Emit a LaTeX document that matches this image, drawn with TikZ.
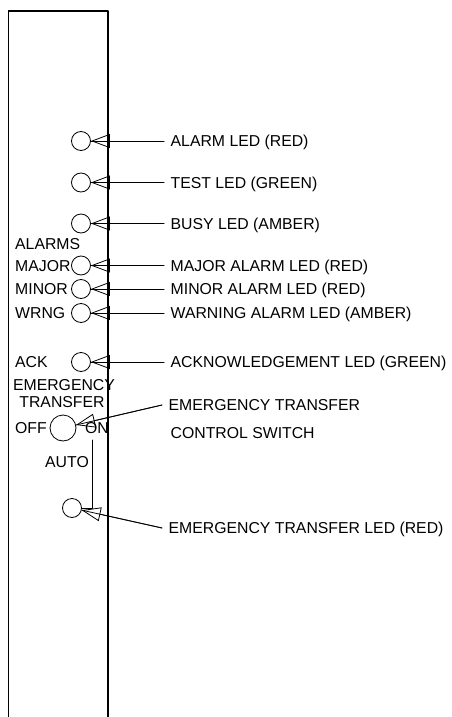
\documentclass[tikz,border=0pt]{standalone}
\usepackage{fontspec}
\setmainfont{Liberation Sans}
\usetikzlibrary{arrows.meta}
\begin{document}
\begin{tikzpicture}[x=1pt,y=-1pt,line join=round,line cap=round,
	font=\fontsize{15.8}{18}\selectfont,
	led/.style={draw,circle,inner sep=0pt,minimum size=19pt,line width=0.8pt},
	txt/.style={inner sep=0pt,text height=11.4pt,text depth=0pt,anchor=west},
	lbl/.style={txt,inner xsep=6.5pt},
	ptr/.style={-{Triangle[open,length=19pt,width=14pt]},line width=0.8pt,postaction={draw,arrows=-}}]
	\useasboundingbox (0,0) rectangle (452,717);
	\draw[line width=1.2pt] (8.5,717)--(8.5,11)--(108,11)--(108,717);
	\foreach \n/\y/\t in {alarm/141/ALARM LED (RED),test/182.5/TEST LED (GREEN),busy/223.5/BUSY LED (AMBER),major/265.5/MAJOR ALARM LED (RED),minor/289/MINOR ALARM LED (RED),wrng/313/WARNING ALARM LED (AMBER),ack/362/ACKNOWLEDGEMENT LED (GREEN)}{
		\node[led] (led\n) at (81,\y) {};
		\node[lbl] (lbl\n) at (164,\y) {\t};
		\draw[ptr] (lbl\n.west)--(led\n);
	}
	\node[txt] (alarms) at (15,244) {ALARMS};
	\node[txt] (major) at (15,265.5) {MAJOR};
	\node[txt] (minor) at (15,289) {MINOR};
	\node[txt] (wrng) at (15,313) {WRNG};
	\node[txt] (ack) at (15,362) {ACK};
	% emergency transfer switch
	\node[txt,anchor=center] (emerg) at (64,385) {EMERGENCY};
	\node[txt,anchor=center] (trans) at (62,401.5) {TRANSFER};
	\node[led,minimum size=26pt] (sw) at (63,428) {};
	\node[txt] (off) at (15,428) {OFF};
	\node[txt] (on) at (85,428) {ON};
	\node[txt] (auto) at (45,462) {AUTO};
	\node[lbl] (lblsw) at (162,405) {EMERGENCY TRANSFER};
	\node[lbl] (lblswb) at (164,433) {CONTROL SWITCH};
	\draw[ptr] (lblsw.west)--(sw);
	\node[led] (ledet) at (72,508) {};
	\coordinate (swout) at (92,440);
	\draw[line width=0.8pt] (swout)|-(ledet.east);
	\node[lbl] (lblet) at (162,528) {EMERGENCY TRANSFER LED (RED)};
	\draw[ptr] (lblet.west)--(ledet);
\end{tikzpicture}
\end{document}
